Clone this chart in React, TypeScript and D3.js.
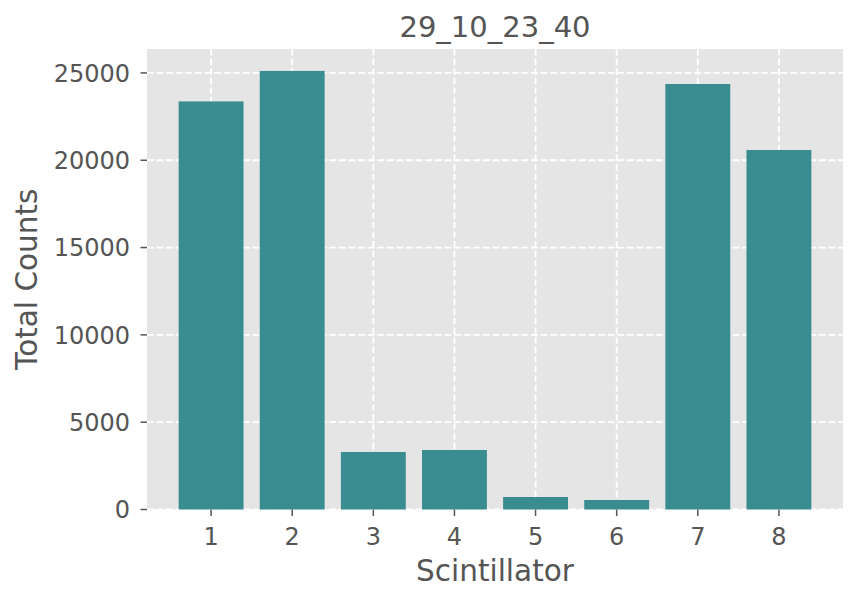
import React from "react";
import * as d3 from "d3";

const categories = [1, 2, 3, 4, 5, 6, 7, 8];
const counts = [23370, 25115, 3293, 3407, 716, 544, 24366, 20586];
const yTicks = [0, 5000, 10000, 15000, 20000, 25000];
const title = "29_10_23_40";
const xLabel = "Scintillator";
const yLabel = "Total Counts";

const W = 858;
const H = 601;
const left = 147;
const right = 843;
const top = 49;
const bottom = 509.5;
const font = "'DejaVu Sans', sans-serif";
const textColor = "#555555";
const barColor = "#398c90";

export default function App() {
  const barW = 0.8;
  const span = categories[categories.length - 1] - categories[0] + barW;
  const x0 = categories[0] - barW / 2 - span * 0.05;
  const x1 = categories[categories.length - 1] + barW / 2 + span * 0.05;
  const x = d3.scaleLinear().domain([x0, x1]).range([left, right]);
  const yMax = (d3.max(counts) as number) * 1.05;
  const y = d3.scaleLinear().domain([0, yMax]).range([bottom, top]);

  return (
    <svg width={W} height={H} style={{ position: "absolute", left: 0, top: 0 }}>
      <rect x={0} y={0} width={W} height={H} fill="white" />
      <rect x={left} y={top} width={right - left} height={bottom - top} fill="#E5E5E5" />
      {yTicks.map((t) => (
        <line key={"gy" + t} x1={left} x2={right} y1={y(t)} y2={y(t)} stroke="white" strokeWidth={1.8} strokeDasharray="6.7,2.9" />
      ))}
      {categories.map((c) => (
        <line key={"gx" + c} x1={x(c)} x2={x(c)} y1={top} y2={bottom} stroke="white" strokeWidth={1.8} strokeDasharray="6.7,2.9" />
      ))}
      {categories.map((c, i) => (
        <rect
          key={"b" + c}
          x={x(c - barW / 2)}
          width={x(c + barW / 2) - x(c - barW / 2)}
          y={y(counts[i])}
          height={y(0) - y(counts[i])}
          fill={barColor}
        />
      ))}
      {yTicks.map((t) => (
        <g key={"yt" + t}>
          <line x1={left - 6.5} x2={left} y1={y(t)} y2={y(t)} stroke={textColor} strokeWidth={1.5} />
          <text x={left - 17} y={y(t)} dy="0.36em" textAnchor="end" fontFamily={font} fontSize={24} fill={textColor}>
            {t}
          </text>
        </g>
      ))}
      {categories.map((c) => (
        <g key={"xt" + c}>
          <line x1={x(c)} x2={x(c)} y1={bottom} y2={bottom + 6.5} stroke={textColor} strokeWidth={1.5} />
          <text x={x(c)} y={544.5} textAnchor="middle" fontFamily={font} fontSize={24} fill={textColor}>
            {c}
          </text>
        </g>
      ))}
      <text x={(left + right) / 2} y={37} textAnchor="middle" fontFamily={font} fontSize={29} fill={textColor}>
        {title}
      </text>
      <text x={(left + right) / 2} y={580.5} textAnchor="middle" fontFamily={font} fontSize={29.5} fill={textColor}>
        {xLabel}
      </text>
      <text
        transform={`translate(37,${(top + bottom) / 2}) rotate(-90)`}
        textAnchor="middle"
        fontFamily={font}
        fontSize={29.5}
        fill={textColor}
      >
        {yLabel}
      </text>
    </svg>
  );
}
